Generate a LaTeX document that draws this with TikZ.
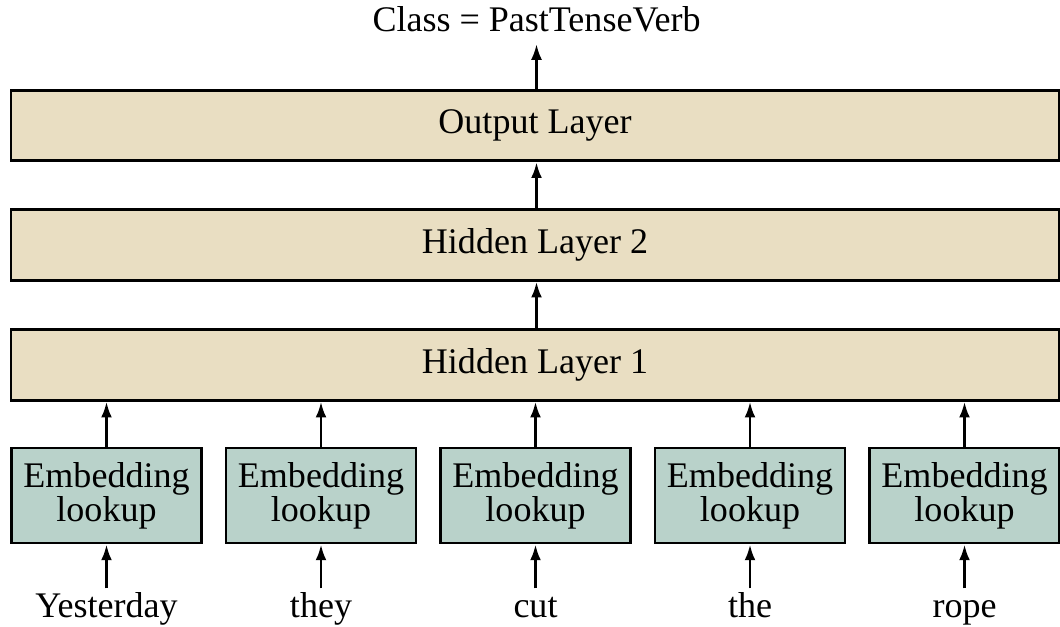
\documentclass[tikz,border=0pt]{standalone}
\usepackage{fontspec}
\setmainfont{Liberation Serif}
\usetikzlibrary{arrows.meta,positioning}
\definecolor{layertan}{HTML}{E9DEC2}
\definecolor{embteal}{HTML}{B9D2CA}

\begin{document}
\begin{tikzpicture}[line width=1.6pt, >={Latex[length=9pt,width=6.2pt]},
    font={\fontsize{20.5}{19.5}\selectfont},
    layer/.style={draw, fill=layertan, minimum width=20.96cm, minimum height=1.41cm, inner sep=0pt},
    emb/.style={draw, fill=embteal, minimum width=3.8cm, minimum height=1.9cm, align=center, inner sep=0pt},
    word/.style={text height=14pt, text depth=4pt, inner sep=2pt}]
  \useasboundingbox (0,0) rectangle (21.2,12.54);
  % the three dense layers
  \node[layer] (out) at (10.7,10.03) {Output Layer};
  \node[layer] (h2) at (10.7,7.64) {Hidden Layer 2};
  \node[layer] (h1) at (10.7,5.24) {Hidden Layer 1};
  \node[word, anchor=base] (cls) at (10.73,11.9) {Class = PastTenseVerb};
  \draw[->] (h1.north -| cls.south) -- (h2.south -| cls.south);
  \draw[->] (h2.north -| cls.south) -- (out.south -| cls.south);
  \draw[->] (out.north -| cls.south) -- (cls.south);
  % one lookup per input word
  \foreach \w [count=\i] in {Yesterday,they,cut,the,rope} {
    \node[emb] (e\i) at ({2.13+4.29*(\i-1)},2.63) {Embedding\\lookup};
    \node[word, anchor=base] (w\i) at (e\i |- 0,0.18) {\w};
    \draw[->] (w\i) -- (e\i);
    \draw[->] (e\i.north) -- (e\i.north |- h1.south);
  }
\end{tikzpicture}
\end{document}
